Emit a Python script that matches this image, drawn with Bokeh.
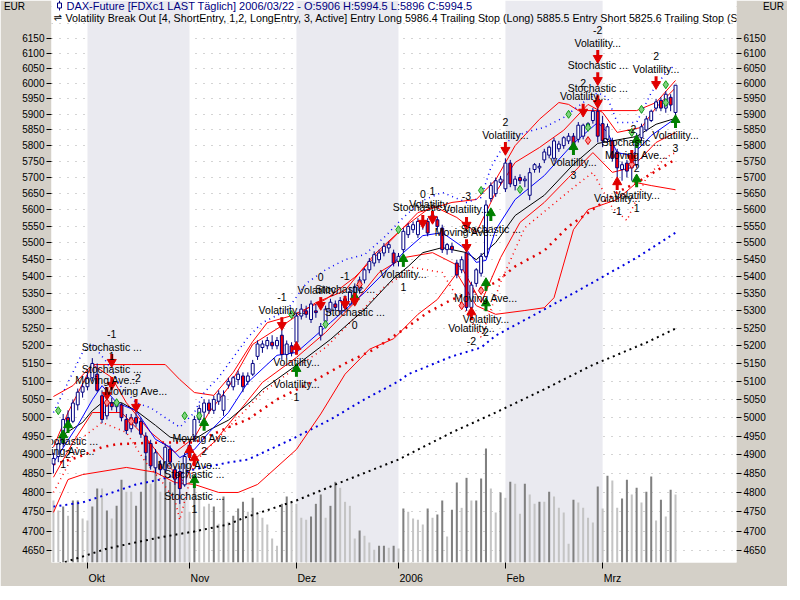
import math
from bokeh.plotting import figure
from bokeh.models import Range1d, FixedTicker, LogAxis, NumeralTickFormatter, LinearScale, ColumnDataSource
from bokeh.core.properties import value
from bokeh.embed import file_html
from bokeh.resources import INLINE

# ---------------- data ----------------
# trading day index 0 = 2005-09-22 ... 128 = 2006-03-22
opens = [4875, 4895, 4930, 5000, 4990, 5035, 5070, 5085, 5110, 5120,
         5060, 5005, 5040, 5030, 5035, 4995, 4970, 5000, 4990, 4950,
         4930, 4865, 4875, 4860, 4915, 4860, 4855, 4820, 4895, 4950,
         4995, 5015, 5040, 5020, 5045, 5020, 5090, 5085, 5105, 5115,
         5100, 5120, 5170, 5195, 5200, 5210, 5200, 5230, 5175, 5200,
         5210, 5285, 5300, 5275, 5300, 5230, 5270, 5300, 5320, 5300,
         5335, 5320, 5340, 5360, 5390, 5420, 5440, 5450, 5470, 5485,
         5470, 5445, 5480, 5525, 5540, 5525, 5555, 5565, 5570, 5570,
         5545, 5480, 5490, 5440, 5420, 5470, 5310, 5380, 5410, 5460,
         5635, 5650, 5685, 5665, 5745, 5675, 5700, 5690, 5645, 5725,
         5730, 5755, 5770, 5760, 5790, 5800, 5815, 5830, 5820, 5830,
         5860, 5880, 5910, 5870, 5820, 5815, 5780, 5725, 5745, 5730,
         5740, 5825, 5850, 5880, 5920, 5945, 5920, 5955, 5906]
highs = [4905, 4940, 5010, 5020, 5050, 5080, 5095, 5125, 5165, 5150,
         5075, 5050, 5055, 5050, 5040, 5010, 5010, 5020, 5000, 4960,
         4940, 4915, 4885, 4930, 4925, 4870, 4870, 4905, 4935, 5005,
         5035, 5050, 5050, 5060, 5075, 5075, 5110, 5115, 5130, 5125,
         5125, 5160, 5215, 5215, 5225, 5230, 5225, 5255, 5215, 5210,
         5295, 5320, 5315, 5330, 5320, 5265, 5315, 5335, 5330, 5340,
         5345, 5370, 5380, 5400, 5425, 5455, 5475, 5480, 5500, 5505,
         5480, 5470, 5545, 5560, 5565, 5575, 5575, 5575, 5600, 5580,
         5555, 5500, 5500, 5450, 5460, 5480, 5385, 5425, 5470, 5630,
         5685, 5700, 5705, 5760, 5755, 5705, 5710, 5705, 5730, 5745,
         5745, 5790, 5800, 5825, 5815, 5830, 5840, 5840, 5875, 5870,
         5875, 5920, 5925, 5895, 5870, 5825, 5790, 5750, 5755, 5765,
         5840, 5870, 5895, 5915, 5950, 5955, 5975, 5965, 5994.5]
lows = [4850, 4880, 4920, 4975, 4985, 5020, 5055, 5075, 5100, 5070,
        4985, 4995, 5020, 5015, 4990, 4955, 4960, 4975, 4945, 4885,
        4860, 4850, 4845, 4850, 4870, 4820, 4770, 4815, 4885, 4935,
        4985, 5000, 5010, 5010, 5035, 5005, 5080, 5075, 5090, 5070,
        5090, 5115, 5160, 5180, 5190, 5190, 5190, 5160, 5165, 5170,
        5200, 5275, 5280, 5265, 5280, 5215, 5260, 5290, 5300, 5295,
        5300, 5315, 5330, 5350, 5380, 5410, 5430, 5440, 5460, 5470,
        5430, 5430, 5470, 5515, 5530, 5515, 5540, 5520, 5560, 5540,
        5470, 5465, 5470, 5395, 5410, 5300, 5280, 5370, 5400, 5455,
        5625, 5640, 5675, 5655, 5670, 5660, 5680, 5670, 5630, 5715,
        5715, 5745, 5760, 5750, 5780, 5790, 5805, 5790, 5810, 5820,
        5850, 5870, 5810, 5795, 5810, 5750, 5700, 5690, 5700, 5690,
        5730, 5815, 5845, 5875, 5910, 5910, 5905, 5910, 5896]
closes = [4890, 4930, 4995, 4985, 5040, 5070, 5085, 5110, 5150, 5075,
          4995, 5040, 5030, 5040, 5000, 4965, 5000, 4985, 4955, 4905,
          4870, 4905, 4860, 4920, 4880, 4835, 4810, 4895, 4925, 4995,
          5025, 5040, 5020, 5050, 5065, 5060, 5100, 5110, 5120, 5085,
          5115, 5150, 5205, 5205, 5215, 5200, 5215, 5175, 5205, 5180,
          5285, 5305, 5290, 5320, 5295, 5255, 5305, 5325, 5310, 5330,
          5310, 5355, 5370, 5390, 5420, 5445, 5465, 5470, 5490, 5495,
          5440, 5460, 5535, 5550, 5555, 5565, 5560, 5530, 5585, 5550,
          5480, 5495, 5480, 5405, 5450, 5310, 5375, 5420, 5460, 5615,
          5675, 5690, 5695, 5745, 5680, 5695, 5690, 5695, 5715, 5740,
          5735, 5780, 5795, 5815, 5805, 5825, 5830, 5800, 5865, 5865,
          5870, 5910, 5830, 5815, 5860, 5760, 5730, 5740, 5720, 5755,
          5830, 5860, 5885, 5910, 5940, 5920, 5965, 5930, 5994.5]
# volume in thousand contracts
volumes = [93, 78, 84, 70, 93, 93, 66, 63, 84, 111,
           111, 78, 66, 85, 124, 106, 106, 85, 106, 160,
           118, 151, 106, 145, 121, 138, 106, 96, 76, 114,
           100, 84, 88, 84, 58, 99, 61, 70, 81, 91,
           76, 97, 72, 67, 57, 36, 25, 88, 99, 90,
           88, 67, 64, 69, 88, 102, 67, 85, 121, 112,
           91, 85, 36, 48, 40, 30, 19, 25, 25, 22,
           25, 21, 81, 76, 66, 64, 57, 81, 67, 72,
           93, 39, 79, 120, 82, 127, 93, 93, 126, 171,
           111, 75, 105, 97, 121, 118, 73, 118, 102, 88,
           91, 91, 106, 99, 82, 75, 28, 94, 90, 82,
           67, 60, 114, 81, 130, 123, 82, 96, 124, 102,
           112, 90, 106, 129, 63, 94, 69, 109, 102]
vol_shade = list("LLDLDDLLDD" "LDLDDLLDDD" "LDLDDDLLLD" "LLLDLDLDDD" "LDLLLLLDDL"
                 "LLLDDDLDDL" "LLLDLLLDDL" "DLDLLLLDLD" "DLDDLDLDDD" "LLDLDLLDLL"
                 "DLDLLLLDLL" "LLDLDLLDDL" "DLDDLDLDL")

month_idx = [7, 28, 50, 71, 93, 113]
month_lbl = ["Okt", "Nov", "Dez", "2006", "Feb", "Mrz"]
y_ticks = list(range(4650, 6151, 50))
grid_ticks = list(range(4650, 6201, 50))
unit_lbl = "EUR"

# indicator lines (sampled readings: day index, price)
bb_up_i = [0, 4, 8, 16, 23, 26, 29, 33, 37, 41, 44, 49, 56, 62, 68, 75, 82, 87, 91, 95, 100, 104, 106, 108, 113, 120, 124, 128]
bb_up_v = [5058, 5088, 5147, 5147, 5147, 5105, 5069, 5061, 5125, 5212, 5266, 5286, 5333, 5398, 5486, 5592, 5623, 5632, 5693, 5800, 5884, 5938, 5932, 5912, 5912, 5912, 5938, 6010]
bb_lo_i = [0, 3, 6, 15, 21, 25, 29, 34, 38, 42, 50, 55, 60, 65, 70, 75, 79, 83, 87, 91, 97, 101, 103, 107, 110, 116, 120, 123, 128]
bb_lo_v = [4748, 4834, 4847, 4866, 4853, 4826, 4821, 4800, 4800, 4821, 4914, 5010, 5120, 5190, 5220, 5290, 5333, 5410, 5315, 5290, 5301, 5309, 5338, 5540, 5601, 5632, 5684, 5675, 5662]
env_up_i = [0, 3, 8, 12, 15, 20, 25, 29, 32, 36, 41, 48, 54, 60, 66, 72, 78, 83, 87, 91, 95, 100, 105, 110, 113, 116, 121, 124, 128]
env_up_v = [4920, 5014, 5147, 5111, 5041, 4960, 4906, 4946, 5014, 5083, 5204, 5266, 5324, 5359, 5465, 5546, 5613, 5577, 5531, 5654, 5747, 5794, 5849, 5932, 5906, 5842, 5858, 5922, 5986]
env_lo_i = [0, 4, 8, 14, 19, 23, 27, 29, 33, 38, 43, 50, 56, 62, 67, 72, 78, 84, 88, 92, 96, 101, 106, 111, 115, 119, 124, 128]
env_lo_v = [4840, 4933, 5014, 5014, 4946, 4879, 4826, 4887, 4933, 5014, 5097, 5167, 5238, 5324, 5412, 5456, 5471, 5427, 5324, 5456, 5562, 5623, 5700, 5778, 5716, 5731, 5810, 5842]
ma_fast_i = [0, 5, 8, 10, 13, 17, 21, 24, 26, 29, 32, 36, 40, 46, 50, 57, 64, 70, 72, 76, 80, 85, 87, 89, 91, 95, 101, 107, 112, 114, 116, 119, 123, 128]
ma_fast_v = [4879, 4979, 5049, 5088, 5041, 5019, 4941, 4920, 4892, 4914, 4960, 5014, 5097, 5173, 5181, 5266, 5353, 5440, 5471, 5522, 5531, 5480, 5442, 5448, 5540, 5632, 5706, 5807, 5874, 5842, 5778, 5769, 5832, 5887]
ma_mid_i = [1, 6, 8, 10, 14, 17, 21, 24, 26, 29, 32, 36, 41, 43, 50, 57, 64, 70, 73, 76, 80, 85, 87, 91, 95, 101, 107, 112, 120, 124, 128]
ma_mid_v = [4945, 4987, 5019, 5041, 5041, 5019, 4979, 4947, 4941, 4941, 4966, 4993, 5049, 5077, 5145, 5218, 5304, 5395, 5430, 5471, 5486, 5471, 5450, 5501, 5583, 5645, 5741, 5807, 5829, 5868, 5887]
ma50_i = [0, 5, 10, 13, 20, 29, 32, 36, 40, 46, 53, 60, 66, 72, 77, 82, 87, 91, 95, 101, 106, 116, 120, 128]
ma50_v = [4874, 4893, 4920, 4928, 4932, 4933, 4950, 4974, 4995, 5050, 5097, 5150, 5190, 5246, 5295, 5333, 5359, 5383, 5430, 5477, 5550, 5654, 5684, 5757]
ma100_i = [0, 6, 11, 17, 22, 29, 36, 40, 49, 57, 64, 71, 73, 82, 88, 91, 101, 111, 120, 128]
ma100_v = [4763, 4774, 4795, 4821, 4834, 4861, 4879, 4887, 4941, 4995, 5050, 5100, 5120, 5170, 5195, 5229, 5304, 5383, 5456, 5531]
ma200_i = [0, 6, 11, 17, 22, 29, 36, 39, 50, 60, 71, 82, 91, 101, 111, 122, 128]
ma200_v = [4612, 4635, 4655, 4671, 4684, 4699, 4717, 4733, 4779, 4831, 4887, 4960, 5014, 5078, 5146, 5209, 5249]
vch_up_i = [0, 6, 8, 11, 14, 17, 20, 23, 26, 29, 31, 34, 37, 40, 43, 48, 52, 56, 60, 64, 68, 72, 76, 80, 85, 88, 90, 93, 97, 101, 105, 109, 112, 114, 116, 120, 123, 126, 128]
vch_up_v = [5014, 5181, 5204, 5153, 5083, 5041, 5027, 5000, 4974, 5014, 5069, 5111, 5167, 5224, 5266, 5301, 5380, 5420, 5450, 5465, 5516, 5577, 5629, 5654, 5623, 5638, 5731, 5810, 5842, 5858, 5890, 5938, 5970, 5954, 5874, 5874, 5970, 6036, 6062]
vch_lo_i = [0, 6, 10, 15, 19, 22, 25, 26, 29, 33, 38, 43, 50, 56, 62, 68, 74, 80, 85, 88, 92, 97, 102, 107, 111, 115, 118, 122, 126, 128]
vch_lo_v = [4800, 4946, 4987, 4960, 4879, 4834, 4780, 4728, 4879, 4933, 5000, 5069, 5139, 5195, 5280, 5368, 5427, 5412, 5295, 5224, 5383, 5546, 5607, 5669, 5716, 5607, 5568, 5700, 5763, 5778]

# signals: day index, price at arrow, colour, direction, label, number
sig_i = [12, 12, 11, 17, 3, 2, 31, 29, 28, 29, 47, 50, 50, 55, 60, 62, 62, 72, 76, 78, 85, 85, 90, 86, 89, 89, 93, 107, 109, 112, 112, 112, 124, 128, 119, 120, 120, 116]
sig_p = [5161, 5097, 5069, 5036, 4973, 4946, 4979, 4826, 4906, 4884, 5266, 5128, 5190, 5324, 5327, 5333, 5336, 5445, 5568, 5580, 5562, 5495, 5583, 5289, 5374, 5315, 5794, 5788, 5916, 6092, 6019, 5944, 6006, 5874, 5769, 5810, 5687, 5678]
sig_c = ["r", "r", "r", "r", "g", "g", "g", "g", "r", "r", "r", "g", "r", "r", "r", "g", "r", "g", "r", "r", "r", "r", "g", "r", "g", "g", "r", "g", "r", "r", "r", "r", "r", "g", "r", "g", "g", "r"]
sig_d = ["dn", "dn", "dn", "dn", "up", "up", "up", "up", "up", "up", "dn", "up", "up", "dn", "dn", "up", "dn", "up", "dn", "dn", "dn", "dn", "up", "up", "up", "up", "dn", "up", "dn", "dn", "dn", "dn", "dn", "up", "dn", "up", "up", "up"]
sig_lbl = ["Stochastic ...", "Stochastic ...", "Moving Ave...", "Moving Ave...", "Stochastic ...", "Moving Ave...",
           "Moving Ave...", "Stochastic ...", "Moving Ave...", "Stochastic ...", "Volatility...", "Volatility...",
           "Volatility...", "Volatility...", "Stochastic ...", "Stochastic ...", "", "Volatility...",
           "Stochastic ...", "Volatility...", "Volatility...", "Moving Ave...", "Stochastic ...", "Volatility...",
           "Moving Ave...", "Volatility...", "Volatility...", "Volatility...", "Volatility...", "Volatility...",
           "Stochastic ...", "Stochastic ...", "Volatility...", "Volatility...", "Stochastic ...", "Moving Ave...",
           "Volatility...", "Volatility..."]
sig_num = ["-1", "1", "", "-2", "2", "1", "2", "1", "", "", "-1", "1", "", "0", "-1", "0", "", "1",
           "0", "1", "-3", "", "", "-2", "", "2", "2", "3", "2", "-2", "", "", "2", "3", "-2", "2", "1", "-1"]

green_mk_i = [1, 13, 27, 30, 49, 56, 71, 88, 96, 106, 110, 119, 121, 126, 126]
green_mk_v = [5019, 5041, 5005, 5005, 5289, 5261, 5540, 5660, 5663, 5900, 5858, 5842, 5916, 5996, 5938]
red_mk_i = [11, 16, 63, 84, 88, 110, 119]
red_mk_v = [5041, 4990, 5377, 5315, 5359, 5816, 5741]

header1 = "DAX-Future [FDXc1 LAST Täglich] 2006/03/22 - O:5906 H:5994.5 L:5896 C:5994.5"
header2 = ("Volatility Break Out [4, ShortEntry, 1,2, LongEntry, 3, Active] Entry Long 5986.4 "
           "Trailing Stop (Long) 5885.5 Entry Short 5825.6 Trailing Stop (Short)")

# ---------------- layout ----------------
FONT = "Liberation Sans"
NAVY = "#000080"
RED = "#e00000"
GREEN = "#008000"
BORDER = "#d4d0c8"
FW, FH = 685, 562
X0, X1 = -0.4, 140.55
Y0, Y1 = 4620.0, 6278.0
PPX = FW / (X1 - X0)
PPL = FH / math.log(Y1 / Y0)
# horizontal shift (px) of each month label's centre right of its tick (left-aligned look)
month_shift_px = [9.2, 10.4, 10.4, 12.7, 10.1, 9.8]
NB = "\u00a0"


def fx(px):
    return X0 + px / PPX


def fy(py):
    return Y1 * math.exp(-py / PPL)


def up(v, px):
    return v * math.exp(px / PPL)


p = figure(frame_width=FW, frame_height=FH, x_range=Range1d(X0, X1), y_range=Range1d(Y0, Y1),
           y_axis_type="log", output_backend="svg", toolbar_location=None,
           min_border_left=49, min_border_right=50, min_border_top=0, min_border_bottom=22,
           border_fill_color=BORDER, background_fill_color="white", outline_line_color=None)
p.extra_y_ranges = {"vol": Range1d(0, FH * 1.5)}
p.extra_y_scales = {"vol": LinearScale()}

# x axis: minor ticks mark the month starts, labels sit just right of them
lab_pos = [round(m + s / PPX, 4) for m, s in zip(month_idx, month_shift_px)]
xa = p.xaxis[0]
xa.ticker = FixedTicker(ticks=lab_pos, minor_ticks=month_idx)
xa.major_label_overrides = {k: t for k, t in zip(lab_pos, month_lbl)}
xa.major_tick_line_color = BORDER
xa.major_tick_out = 6
xa.major_tick_in = 0
xa.minor_tick_line_color = "black"
xa.minor_tick_out = 6
xa.minor_tick_in = 0
xa.axis_line_color = None
xa.major_label_standoff = 3
xa.major_label_text_font = FONT
xa.major_label_text_font_size = "10.5px"
xa.major_label_text_color = "black"
p.xgrid.visible = False

# y axes: minor ticks at the price levels; the top (unticked) label is the unit
eur_v = round(fy(6), 3)
ra = LogAxis()
p.add_layout(ra, "right")
la = p.yaxis[0]
for ax, eur_txt in [(la, unit_lbl + NB * 7), (ra, NB * 7 + unit_lbl)]:
    ax.ticker = FixedTicker(ticks=y_ticks + [eur_v], minor_ticks=y_ticks)
    ax.formatter = NumeralTickFormatter(format="0")
    ax.major_label_overrides = {eur_v: eur_txt}
    ax.major_tick_line_color = BORDER
    ax.major_tick_out = 5
    ax.major_tick_in = 0
    ax.minor_tick_line_color = "black"
    ax.minor_tick_out = 5
    ax.minor_tick_in = 0
    ax.axis_line_color = None
    ax.major_label_text_font = FONT
    ax.major_label_text_font_size = "10px"
    ax.major_label_text_color = "black"
    ax.major_label_standoff = 2

p.ygrid[0].ticker = FixedTicker(ticks=grid_ticks)
p.ygrid.grid_line_color = "#a8a8a8"
p.ygrid.grid_line_dash = "1 7"
p.ygrid.grid_line_width = 1

# month bands
p.quad(left=month_idx[0::2], right=month_idx[1::2], bottom=Y0, top=Y1,
       fill_color="#eaeaf0", line_color=None)

# volume
idx = list(range(len(closes)))
vcol = ["#808080" if s == "D" else "#c4c4c4" for s in vol_shade]
p.vbar(x=idx, top=volumes, bottom=0, width=0.42, y_range_name="vol", fill_color=vcol, line_color=None)

# long moving averages (thick dotted)
p.line(ma200_i, ma200_v, line_color="black", line_width=2, line_dash="2 4")
p.line(ma100_i, ma100_v, line_color="#0000e0", line_width=2, line_dash="2 4")
p.line(ma50_i, ma50_v, line_color=RED, line_width=2.5, line_dash="2 5")

# bands / channels
p.line(bb_up_i, bb_up_v, line_color="red", line_width=1)
p.line(bb_lo_i, bb_lo_v, line_color="red", line_width=1)
p.line(vch_up_i, vch_up_v, line_color="#0000ff", line_width=1.5, line_dash="1 4")
p.line(vch_lo_i, vch_lo_v, line_color="red", line_width=1.5, line_dash="1 4")
p.line(env_up_i, env_up_v, line_color="red", line_width=1)
p.line(env_lo_i, env_lo_v, line_color="red", line_width=1)
p.line(ma_mid_i, ma_mid_v, line_color="black", line_width=1)
p.line(ma_fast_i, ma_fast_v, line_color="#0000ff", line_width=1)

# candles
src = ColumnDataSource(dict(
    x=idx, o=opens, h=highs, l=lows, c=closes,
    top=[max(a, b) for a, b in zip(opens, closes)],
    bot=[min(a, b) for a, b in zip(opens, closes)],
    fill=["white" if c >= o else "#ff0000" for o, c in zip(opens, closes)],
))
p.segment(x0="x", y0="h", x1="x", y1="l", source=src, line_color=NAVY, line_width=1)
p.vbar(x="x", top="top", bottom="bot", width=0.6, source=src, fill_color="fill", line_color=NAVY, line_width=1)

# markers
p.scatter(green_mk_i, green_mk_v, marker="diamond", size=8, fill_color="#7fd07f", line_color="#10a010")
p.scatter(red_mk_i, red_mk_v, marker="diamond", size=8, fill_color="#ff9090", line_color="#e00000")

# signal arrows
for want in ["g", "r"]:
    hx, hy, hm, sx, sy, col = [], [], [], [], [], []
    for i, pr, c, d in zip(sig_i, sig_p, sig_c, sig_d):
        if c != want:
            continue
        cc = GREEN if c == "g" else RED
        if d == "dn":
            hx.append(i); hy.append(up(pr, -2.5)); hm.append("inverted_triangle")
            sx.append(i); sy.append(up(pr, 2.5))
        else:
            hx.append(i); hy.append(up(pr, 2.5)); hm.append("triangle")
            sx.append(i); sy.append(up(pr, -2.5))
        col.append(cc)
    p.rect(sx, sy, width=3, height=6, width_units="screen", height_units="screen",
           fill_color=col, line_color=None)
    p.scatter(hx, hy, marker=hm, size=9, fill_color=col, line_color=col)

# signal texts
tx, ty, tt, toff = [], [], [], []
for i, pr, d, lb, nm in zip(sig_i, sig_p, sig_d, sig_lbl, sig_num):
    s = -1 if d == "dn" else 1
    if lb:
        tx.append(i); ty.append(pr); tt.append(lb); toff.append(s * 13)
    if nm:
        tx.append(i); ty.append(pr); tt.append(nm); toff.append(s * 26)
p.text(tx, ty, text=tt, y_offset=toff, text_align="center", text_baseline="middle",
       text_font=value(FONT), text_font_size="10.5px", text_color="black")

# header
p.segment([fx(8)], [fy(0)], [fx(8)], [fy(10)], line_color=NAVY, line_width=1)
p.rect([fx(8)], [fy(5)], width=4, height=5, width_units="screen", height_units="screen",
       fill_color="white", line_color=NAVY)
p.text([fx(15)], [fy(5)], text=[header1], text_align="left", text_baseline="middle",
       text_font=value(FONT), text_font_size="11px", text_color=NAVY)
p.text([fx(2)], [fy(17)], text=["\u21cc"], text_align="left", text_baseline="middle",
       text_font=value("DejaVu Sans"), text_font_size="10px", text_color="black")
p.text([fx(14)], [fy(17)], text=[header2], text_align="left", text_baseline="middle",
       text_font=value(FONT), text_font_size="10.7px", text_color="black")

open("out.html", "w").write(file_html(p, INLINE))
